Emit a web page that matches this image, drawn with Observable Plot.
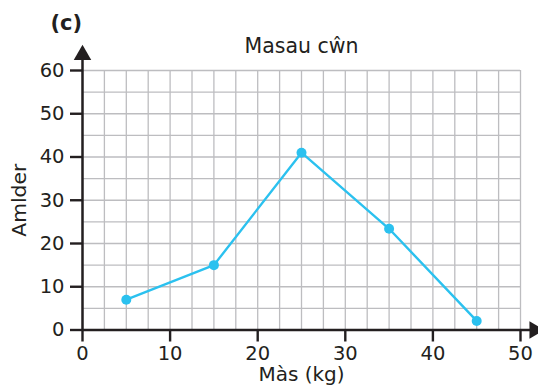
<!DOCTYPE html>
<html><head><meta charset="utf-8">
<script src="https://cdn.jsdelivr.net/npm/d3@7"></script>
<script src="https://cdn.jsdelivr.net/npm/@observablehq/plot@0.6"></script>
<style>body{margin:0;background:#fff;font-family:"DejaVu Sans",sans-serif;}</style>
</head><body><div id="chart"></div>
<script>
const mass = [5, 15, 25, 35, 45];
const freq = [7, 15, 41, 23.4, 2.1];
const xTicks = [0, 10, 20, 30, 40, 50];
const yTicks = [0, 10, 20, 30, 40, 50, 60];
const xGrid = d3.range(0, 50.01, 2.5);
const yGrid = d3.range(0, 60.01, 5);
const title = "Masau cŵn";
const xLabel = "Màs (kg)";
const yLabel = "Amlder";
const tag = "(c)";

const pts = mass.map((m, i) => ({m, f: freq[i]}));
const font = "'DejaVu Sans', sans-serif";
const ink = "#231f20";
const blue = "#2bc1ef";

const chart = Plot.plot({
  width: 538, height: 386,
  marginLeft: 82, marginRight: 18, marginTop: 70, marginBottom: 56.5,
  style: {fontFamily: font, background: "#fff", overflow: "visible"},
  x: {type: "linear", domain: [0, 50], axis: null, label: null},
  y: {type: "linear", domain: [0, 60], axis: null, label: null},
  marks: [
    Plot.ruleX(xGrid, {stroke: "#bdbdc0", strokeWidth: 1.3}),
    Plot.ruleY(yGrid, {stroke: "#bdbdc0", strokeWidth: 1.3}),
    Plot.line(pts, {x: "m", y: "f", stroke: blue, strokeWidth: 2.4}),
    Plot.dot(pts, {x: "m", y: "f", fill: blue, r: 5}),
    Plot.axisX({ticks: xTicks, tickSize: 12, tickPadding: 4, tickFormat: d => d, fontSize: 19.5, stroke: ink, strokeWidth: 2.4, fill: ink, label: null}),
    Plot.axisY({ticks: yTicks, tickSize: 12, tickPadding: 6, tickFormat: d => d, fontSize: 19.5, stroke: ink, strokeWidth: 2.4, fill: ink, label: null}),
    Plot.ruleY([0], {x1: 0, x2: 51.3, stroke: ink, strokeWidth: 2.5, clip: false}),
    Plot.ruleX([0], {y1: 0, y2: 63.5, stroke: ink, strokeWidth: 2.5, clip: false}),
    Plot.dot([0], {x: 51.6, y: 0, symbol: "triangle", rotate: 90, fill: ink, r: 6.5, stroke: null}),
    Plot.dot([0], {x: 0, y: 63.6, symbol: "triangle", rotate: 0, fill: ink, r: 6.5, stroke: null}),
    Plot.text([title], {frameAnchor: "top", dy: -24, lineAnchor: "middle", fontSize: 20.5, fill: ink}),
    Plot.text([tag], {frameAnchor: "top-left", dx: -32, dy: -47, lineAnchor: "middle", fontSize: 21, fontWeight: "bold", fill: ink}),
    Plot.text([yLabel], {frameAnchor: "left", dx: -63, rotate: -90, textAnchor: "middle", lineAnchor: "middle", fontSize: 20.3, fill: ink}),
    Plot.text([xLabel], {frameAnchor: "bottom", dy: 45, lineAnchor: "middle", fontSize: 20, fill: ink})
  ]
});
document.getElementById("chart").appendChild(chart);
</script></body></html>
